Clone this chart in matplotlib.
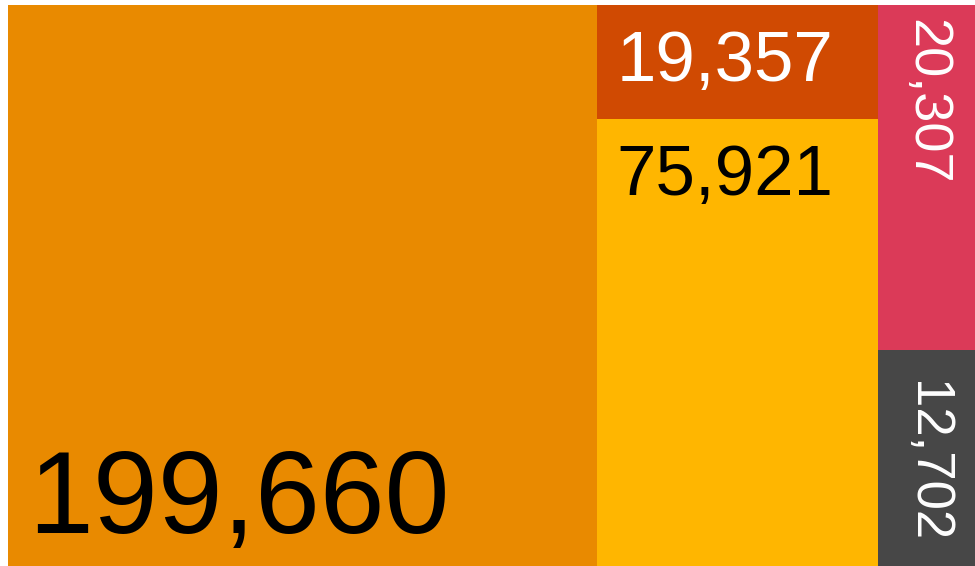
import matplotlib.pyplot as plt
from matplotlib.patches import Rectangle

# Treemap values, grouped into columns (slice-and-dice layout)
values = [199660, 19357, 75921, 20307, 12702]
groups = [[0], [1, 2], [3, 4]]
colors = ['#E98A00', '#D04A02', '#FFB600', '#DB3A58', '#474747']
text_colors = ['black', 'white', 'black', 'white', 'white']
labels = [f'{v:,}' for v in values]

fig = plt.figure(figsize=(9.75, 5.66), dpi=100)
ax = fig.add_axes([8 / 975, 0, 967 / 975, 561 / 566])
ax.set_xlim(0, 1)
ax.set_ylim(1, 0)
ax.axis('off')

total = sum(values)
rects = {}
x = 0.0
for g in groups:
    gsum = sum(values[i] for i in g)
    w = gsum / total
    y = 0.0
    for i in g:
        h = values[i] / gsum
        rects[i] = (x, y, w, h)
        ax.add_patch(Rectangle((x, y), w, h, facecolor=colors[i], edgecolor='none'))
        y += h
    x += w

font = 'Liberation Sans'

# big label, bottom-left
x0, y0, w, h = rects[0]
ax.annotate(labels[0], (x0, y0 + h), xytext=(20, 33), textcoords='offset pixels',
            ha='left', va='baseline', fontsize=84, color=text_colors[0], family=font)

# middle column, top-left
for i in [1, 2]:
    x0, y0, w, h = rects[i]
    ax.annotate(labels[i], (x0, y0), xytext=(20, -76), textcoords='offset pixels',
                ha='left', va='baseline', fontsize=51, color=text_colors[i], family=font)

# right column, rotated
x0, y0, w, h = rects[3]
ax.annotate(labels[3], (x0, y0), xytext=(35, -14), textcoords='offset pixels',
            ha='left', va='baseline', rotation=270, rotation_mode='anchor',
            fontsize=39, color=text_colors[3], family=font)
x0, y0, w, h = rects[4]
ax.annotate(labels[4], (x0, y0 + h), xytext=(35, 24), textcoords='offset pixels',
            ha='right', va='baseline', rotation=270, rotation_mode='anchor',
            fontsize=38, color=text_colors[4], family=font)

fig.savefig('out.png', dpi=100, facecolor='white')
